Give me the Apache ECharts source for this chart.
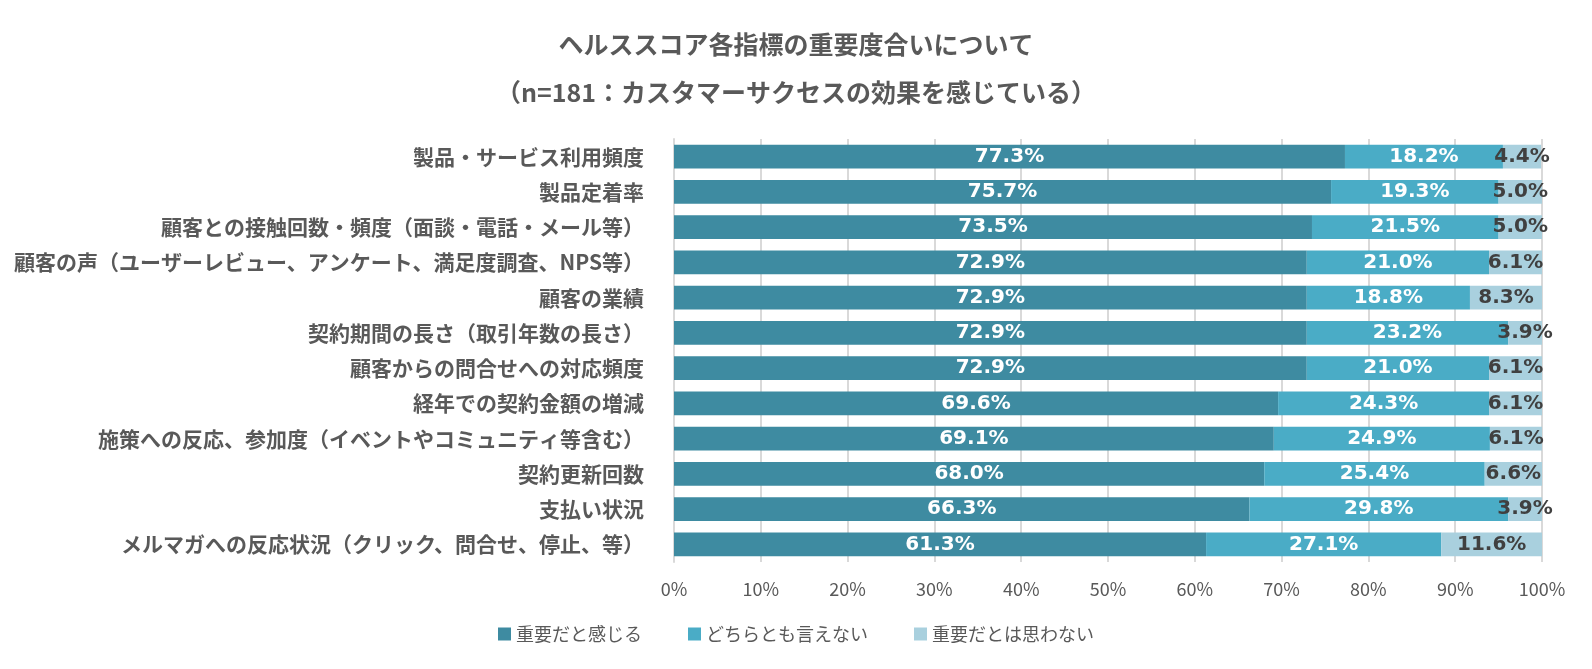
<!DOCTYPE html>
<html><head><meta charset="utf-8">
<script src="https://cdn.jsdelivr.net/npm/echarts@6/dist/echarts.min.js"></script>
<style>html,body{margin:0;padding:0;background:#fff}#c{width:1592px;height:669px}</style>
</head><body><div id="c"></div>
<script>
const categories = [
  '製品・サービス利用頻度',
  '製品定着率',
  '顧客との接触回数・頻度（面談・電話・メール等）',
  '顧客の声（ユーザーレビュー、アンケート、満足度調査、NPS等）',
  '顧客の業績',
  '契約期間の長さ（取引年数の長さ）',
  '顧客からの問合せへの対応頻度',
  '経年での契約金額の増減',
  '施策への反応、参加度（イベントやコミュニティ等含む）',
  '契約更新回数',
  '支払い状況',
  'メルマガへの反応状況（クリック、問合せ、停止、等）'
];
const seriesNames = ['重要だと感じる', 'どちらとも言えない', '重要だとは思わない'];
const important = [77.3, 75.7, 73.5, 72.9, 72.9, 72.9, 72.9, 69.6, 69.1, 68.0, 66.3, 61.3];
const neutral   = [18.2, 19.3, 21.5, 21.0, 18.8, 23.2, 21.0, 24.3, 24.9, 25.4, 29.8, 27.1];
const notImportant = [4.4, 5.0, 5.0, 6.1, 8.3, 3.9, 6.1, 6.1, 6.1, 6.6, 3.9, 11.6];
const xTicks = [0, 10, 20, 30, 40, 50, 60, 70, 80, 90, 100];

const colors = ['#3e8ba1', '#4aacc6', '#a9d0de'];
const labelColors = ['#ffffff', '#ffffff', '#404040'];
const jp = '"Noto Sans CJK JP", "Noto Sans", sans-serif';
const num = 'Verdana, "DejaVu Sans", sans-serif';

const dataSets = [important, neutral, notImportant];
const chart = echarts.init(document.getElementById('c'));
chart.setOption({
  animation: false,
  title: {
    text: 'ヘルススコア各指標の重要度合いについて\n（n=181：カスタマーサクセスの効果を感じている）',
    left: 'center', top: 15,
    textStyle: { fontFamily: jp, fontSize: 25, fontWeight: 'bold', color: '#595959', lineHeight: 48 }
  },
  legend: {
    bottom: 21, left: 'center', itemWidth: 13, itemHeight: 13, itemGap: 46,
    icon: 'rect',
    textStyle: { fontFamily: jp, fontSize: 18, color: '#595959' },
    data: seriesNames
  },
  grid: { left: 674, right: 50, top: 139, bottom: 107 },
  xAxis: {
    type: 'value', min: 0, max: 100, interval: 10,
    axisLabel: { formatter: v => xTicks.includes(v) ? v + '%' : '', fontFamily: jp, fontSize: 18, color: '#595959', margin: 18 },
    splitLine: { show: true, lineStyle: { color: '#d9d9d9', width: 2 } },
    axisLine: { show: false }, axisTick: { show: false }
  },
  yAxis: {
    type: 'category', inverse: true, data: categories,
    axisLabel: { fontFamily: jp, fontSize: 21, fontWeight: 'bold', color: '#595959', margin: 30 },
    axisLine: { show: true, lineStyle: { color: '#d9d9d9', width: 2 } },
    axisTick: { show: false }
  },
  series: seriesNames.map((name, i) => ({
    name, type: 'bar', stack: 'total', barWidth: '68%',
    itemStyle: { color: colors[i] },
    label: {
      show: true, position: 'inside',
      formatter: p => p.value.toFixed(1) + '%',
      fontFamily: num, fontSize: 20, fontWeight: 'bold', color: labelColors[i]
    },
    data: dataSets[i]
  }))
});
</script></body></html>
